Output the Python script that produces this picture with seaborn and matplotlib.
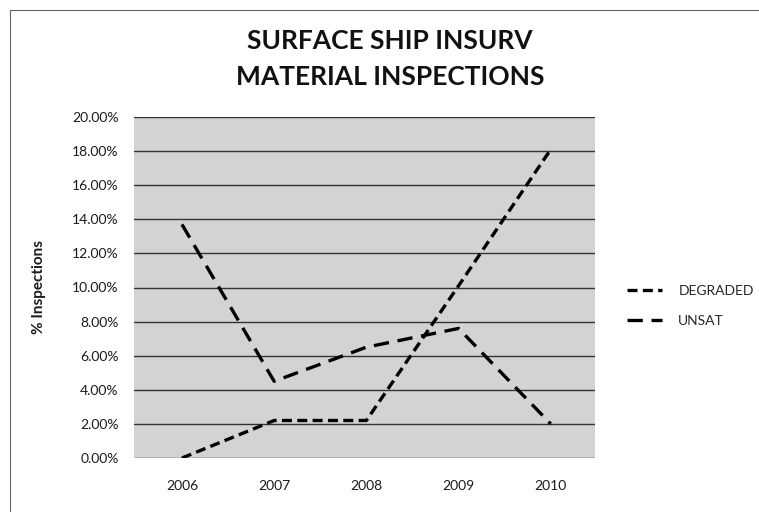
import pandas as pd
import numpy as np
import matplotlib.pyplot as plt
import matplotlib as mpl
import seaborn as sns
from matplotlib.ticker import PercentFormatter

sns.set_style('white')
plt.rcParams['font.family'] = ['Lato', 'DejaVu Sans']

years = [2006, 2007, 2008, 2009, 2010]
degraded = [0.0, 2.2, 2.2, 10.1, 18.1]
unsat = [13.7, 4.5, 6.5, 7.6, 2.0]
yticks = [0, 2, 4, 6, 8, 10, 12, 14, 16, 18, 20]

df = pd.DataFrame({'year': years, 'DEGRADED': degraded, 'UNSAT': unsat})

fig = plt.figure(figsize=(7.59, 5.12), dpi=100)
ax = fig.add_axes([134/759, 54/512, 461/759, 341/512])
ax.set_facecolor('#d3d3d3')

# short dash vs long dash, like the excel chart
sns.lineplot(data=df, x='year', y='DEGRADED', ax=ax, color='black', linewidth=2.4,
             linestyle=(0, (3.0, 1.6)), label='DEGRADED')
sns.lineplot(data=df, x='year', y='UNSAT', ax=ax, color='black', linewidth=2.4,
             linestyle=(0, (4.6, 2.6)), label='UNSAT')

ax.set_xlim(2005.48, 2010.48)
ax.set_ylim(0, 20)
ax.set_xticks(years)
ax.set_yticks(yticks)
ax.yaxis.set_major_formatter(PercentFormatter(decimals=2))
ax.grid(axis='y', color='#333333', linewidth=1.0)
ax.set_axisbelow(True)
for s in ax.spines.values():
    s.set_visible(False)
ax.tick_params(axis='x', length=0, pad=16, labelsize=10, colors='#1a1a1a')
ax.tick_params(axis='y', length=0, pad=11, labelsize=10, colors='#1a1a1a')

ax.set_xlabel('')
ax.set_ylabel('% Inspections', fontsize=11, fontweight='bold', color='#1a1a1a')
ax.yaxis.set_label_coords(-0.191, 0.5)

ax.legend(loc='center left', bbox_to_anchor=(620/759, 1 - 306/512), bbox_transform=fig.transFigure,
          frameon=False, borderpad=0, handlelength=2.5, handletextpad=1.2, labelspacing=1.3,
          fontsize=10)

fig.text(390/759, 1 - 41/512, 'SURFACE SHIP INSURV', ha='center', va='center',
         fontsize=19, fontweight='bold', color='#111111')
fig.text(390/759, 1 - 77/512, 'MATERIAL INSPECTIONS', ha='center', va='center',
         fontsize=19, fontweight='bold', color='#111111')

# thin frame round the chart (only left and top show on the scan)
fig.add_artist(plt.Rectangle((10/759, -0.05), 1.1, 1.04 - 5/512, transform=fig.transFigure,
                             fill=False, edgecolor='#666666', linewidth=0.8))

fig.savefig('out.png', dpi=100)
